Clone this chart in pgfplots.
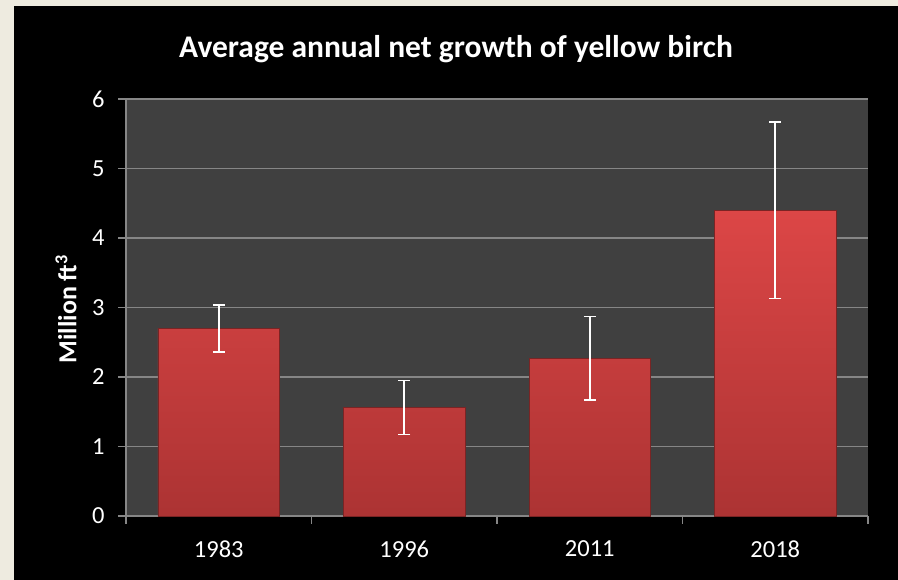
\documentclass[border=0pt]{standalone}
\usepackage{pgfplots}
\pgfplotsset{compat=1.18}
\usepackage{fontspec}
\setmainfont{Carlito}
\definecolor{beige}{HTML}{EEEBE0}
\definecolor{plotbg}{HTML}{404040}
\definecolor{gridc}{HTML}{868686}
\definecolor{bartop}{HTML}{DC4646}
\definecolor{barbot}{HTML}{AC3333}
\definecolor{baredge}{HTML}{7A2424}
\begin{document}
\begin{tikzpicture}[x=1pt,y=1pt]
\useasboundingbox (0,0) rectangle (898,580);
\fill[beige] (0,0) rectangle (898,580);
\fill[black] (14,0) rectangle (898,574);
\node[text=white,font=\fontsize{31.5}{36}\selectfont\bfseries] at (456,531) {Average annual net growth of yellow birch};
\node[text=white,font=\fontsize{26}{30}\selectfont\bfseries,rotate=90] at (66,271) {Million ft\textsuperscript{3}};
\begin{axis}[
  at={(126pt,64pt)}, anchor=south west,
  width=742pt, height=417pt, scale only axis,
  xmin=-0.5, xmax=3.5, ymin=0, ymax=6,
  axis x line*=bottom, axis y line*=left,
  axis line style={gridc, line width=1.2pt},
  axis background/.style={fill=plotbg},
  ytick={0,1,2,3,4,5,6},
  ymajorgrids, major grid style={gridc, line width=1.2pt},
  xtick={0,1,2,3}, xticklabels={1983,1996,2011,2018},
  major x tick style={draw=none},
  minor xtick={-0.5,0.5,1.5,2.5,3.5},
  minor x tick style={gridc, line width=1.2pt},
  minor tick length=8pt,
  major tick length=8pt,
  tick align=outside,
  ytick style={gridc, line width=1.2pt},
  tick label style={text=white, font=\fontsize{24.5}{28}\selectfont},
  /pgf/number format/assume math mode=true,
  yticklabel style={xshift=-10pt},
  xticklabel style={yshift=-13pt},
  ybar, bar width=0.655, bar shift=0pt,
  clip=false,
]
\addplot[
  draw=baredge, line width=0.6pt,
  top color=bartop, bottom color=barbot,
  error bars/.cd, y dir=both, y explicit,
  error bar style={white, line width=1.6pt},
  error mark options={white, rotate=90, mark size=6pt, line width=1.6pt},
] coordinates {
  (0,2.70) +- (0,0.34)
  (1,1.56) +- (0,0.39)
  (2,2.27) +- (0,0.60)
  (3,4.40) +- (0,1.27)
};
\end{axis}
\end{tikzpicture}
\end{document}
